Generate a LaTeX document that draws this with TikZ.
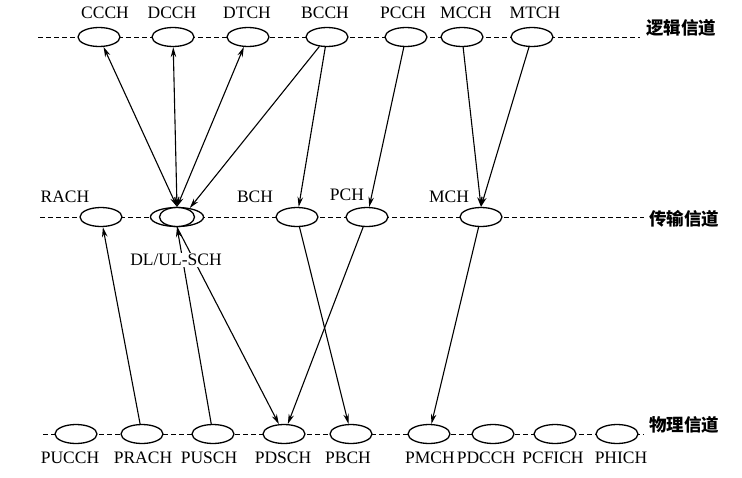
\documentclass[tikz,border=0pt]{standalone}
\usepackage{fontspec}
\setmainfont{Liberation Serif}
\newfontfamily\cjk{Noto Sans CJK SC}
\usepackage{tikz}
\usetikzlibrary{positioning, shapes.geometric, arrows.meta}
\tikzstyle{chan}=[ellipse, draw, line width=1.3pt, minimum width=42pt, minimum height=19pt, inner sep=0pt, fill=white]
\tikzstyle{chanName}=[inner sep=0pt, font=\fontsize{17.5}{20}\selectfont]
\tikzstyle{layerName}=[inner sep=0pt, anchor=west, font=\cjk\bfseries\fontsize{17.5}{20}\selectfont]
\tikzstyle{layerLine}=[dash pattern=on 5pt off 3pt, line width=1pt]
\tikzstyle{mapArrow}=[->, >={Stealth[length=10pt,width=5.5pt]}, line width=1.1pt]
\tikzstyle{mapBoth}=[<->, >={Stealth[length=10pt,width=5.5pt]}, line width=1.1pt]

\begin{document}
\begin{tikzpicture}[x=1pt, y=-1pt]
      \useasboundingbox (0,0) rectangle (742,477);

      % the three layers
      \coordinate (logicStart) at (38,37);
      \coordinate (logicEnd) at (640,37);
      \coordinate (transStart) at (40,217);
      \coordinate (transEnd) at (644,217);
      \coordinate (physStart) at (43,434);
      \coordinate (physEnd) at (644,434);
      \draw[layerLine] (logicStart) -- (logicEnd);
      \draw[layerLine] (transStart) -- (transEnd);
      \draw[layerLine] (physStart) -- (physEnd);

      \node[layerName] (logicName) at (646,27.5) {逻辑信道};
      \node[layerName] (transName) at (649,219) {传输信道};
      \node[layerName] (physName) at (649,425) {物理信道};

      % logical channels
      \foreach \n/\x/\lx/\t in {ccch/99/105/CCCH, dcch/173/172/DCCH, dtch/248/247/DTCH,
        bcch/327/325/BCCH, pcch/406/403/PCCH, mcch/462/466/MCCH, mtch/532/535/MTCH}{
        \node[chan] (\n) at (\x,37) {};
        \node[chanName] (label\n) at (\lx,13) {\t};
      }

      % transport channels
      \foreach \n/\x/\lx/\ly/\t in {rach/101/65/197/RACH, bch/297/255/197/BCH,
        pch/367/347/195/PCH, mch/481/449/197/MCH}{
        \node[chan] (\n) at (\x,217) {};
        \node[chanName] (label\n) at (\lx,\ly) {\t};
      }
      \node[chan, minimum width=53pt] (dlul) at (177,217) {};
      \node[chan, minimum width=35pt] (dlulInner) at (dlul) {};

      % physical channels
      \foreach \n/\x/\lx/\t in {pucch/76/70/PUCCH, prach/142/143/PRACH, pusch/213/209/PUSCH,
        pdsch/284/283/PDSCH, pbch/351/348/PBCH, pmch/429/430/PMCH, pdcch/493/486/PDCCH,
        pcfich/555/553/PCFICH, phich/617/621/PHICH}{
        \node[chan] (\n) at (\x,434) {};
        \node[chanName] (label\n) at (\lx,458) {\t};
      }

      % logical -> transport
      \foreach \c in {ccch, dcch, dtch}{
        \draw[mapBoth] (\c) -- (dlul.north);
      }
      \draw[mapArrow] (bcch) -- (dlul.35);
      \draw[mapArrow] (bcch) -- (bch);
      \draw[mapArrow] (pcch) -- (pch);
      \draw[mapArrow] (mcch) -- (mch.north);
      \draw[mapArrow] (mtch) -- (mch.north);

      % transport <-> physical
      \draw[mapArrow] (prach) -- (rach);
      \draw[mapArrow] (pusch) -- (dlul.south);
      \draw[mapArrow] (dlul.south) -- (pdsch);
      \draw[mapArrow] (bch) -- (pbch);
      \draw[mapArrow] (pch) -- (pdsch);
      \draw[mapArrow] (mch) -- (pmch);

      \node[chanName, fill=white, inner sep=1pt] (labeldlul) at (176,260) {DL/UL-SCH};
\end{tikzpicture}
\end{document}
